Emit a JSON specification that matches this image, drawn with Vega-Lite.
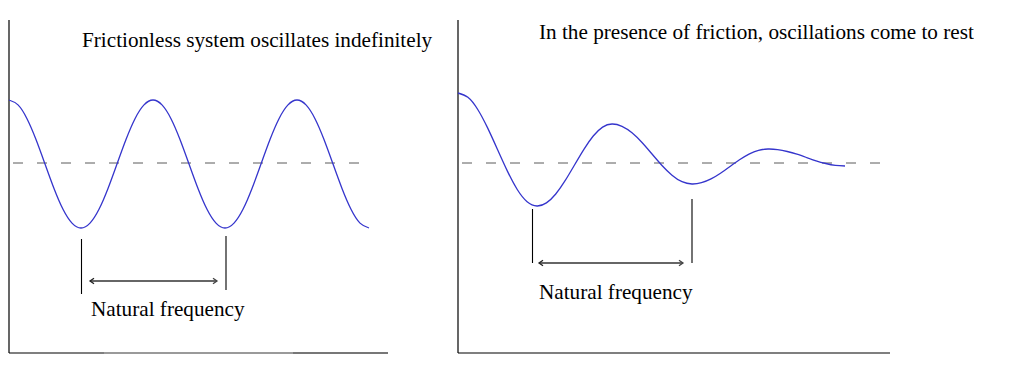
{
  "$schema": "https://vega.github.io/schema/vega-lite/v6.json",
  "background": "white",
  "padding": {"left": 6, "top": 19, "right": 0, "bottom": 0},
  "bounds": "flush",
  "spacing": 70,
  "config": {"view": {"stroke": null}, "font": "Liberation Serif"},
  "datasets": {
    "frictionless": [
      {"t": 0, "d": 63}, {"t": 9, "d": 58.1}, {"t": 18, "d": 44.3}, {"t": 27, "d": 23.5}, {"t": 36, "d": -1},
      {"t": 45, "d": -25.5}, {"t": 54, "d": -46.3}, {"t": 63, "d": -60.1}, {"t": 72, "d": -65}, {"t": 81, "d": -60.1},
      {"t": 90, "d": -46.3}, {"t": 99, "d": -25.5}, {"t": 108, "d": -1}, {"t": 117, "d": 23.5}, {"t": 126, "d": 44.3},
      {"t": 135, "d": 58.1}, {"t": 144, "d": 63}, {"t": 153, "d": 58.1}, {"t": 162, "d": 44.3}, {"t": 171, "d": 23.5},
      {"t": 180, "d": -1}, {"t": 189, "d": -25.5}, {"t": 198, "d": -46.3}, {"t": 207, "d": -60.1}, {"t": 216, "d": -65},
      {"t": 225, "d": -60.1}, {"t": 234, "d": -46.3}, {"t": 243, "d": -25.5}, {"t": 252, "d": -1}, {"t": 261, "d": 23.5},
      {"t": 270, "d": 44.3}, {"t": 279, "d": 58.1}, {"t": 288, "d": 63}, {"t": 297, "d": 58.1}, {"t": 306, "d": 44.3},
      {"t": 315, "d": 23.5}, {"t": 324, "d": -1}, {"t": 333, "d": -25.5}, {"t": 342, "d": -46.3}, {"t": 351, "d": -60.1},
      {"t": 360, "d": -65}
    ],
    "damped": [
      {"t": 0, "d": 70}, {"t": 9.9, "d": 65.7}, {"t": 19.75, "d": 53.5}, {"t": 29.6, "d": 35.1}, {"t": 39.5, "d": 13.5},
      {"t": 49.4, "d": -8.1}, {"t": 59.25, "d": -26.5}, {"t": 69.1, "d": -38.7}, {"t": 79, "d": -43},
      {"t": 88.4, "d": -39.9}, {"t": 97.75, "d": -31}, {"t": 107.1, "d": -17.7}, {"t": 116.5, "d": -2},
      {"t": 125.9, "d": 13.7}, {"t": 135.25, "d": 27}, {"t": 144.6, "d": 35.9}, {"t": 154, "d": 39},
      {"t": 164, "d": 36.7}, {"t": 174, "d": 30.2}, {"t": 184, "d": 20.5}, {"t": 194, "d": 9},
      {"t": 204, "d": -2.5}, {"t": 214, "d": -12.2}, {"t": 224, "d": -18.7}, {"t": 234, "d": -21},
      {"t": 243.5, "d": -19.7}, {"t": 253, "d": -15.9}, {"t": 262.5, "d": -10.2}, {"t": 272, "d": -3.5},
      {"t": 281.5, "d": 3.2}, {"t": 291, "d": 8.9}, {"t": 300.5, "d": 12.7}, {"t": 310, "d": 14},
      {"t": 319.6, "d": 13.4}, {"t": 329.25, "d": 11.5}, {"t": 338.9, "d": 8.8}, {"t": 348.5, "d": 5.5},
      {"t": 358.1, "d": 2.2}, {"t": 367.75, "d": -0.5}, {"t": 377.4, "d": -2.4}, {"t": 387, "d": -3}
    ]
  },
  "hconcat": [
    {
      "width": 379,
      "height": 334,
      "layer": [
        {
          "data": {"values": [{"t": 0, "d0": -190, "d1": 143}]},
          "mark": {"type": "rule", "color": "black", "strokeWidth": 1.2},
          "encoding": {
            "x": {"field": "t", "type": "quantitative", "scale": {"domain": [0, 379], "nice": false, "zero": false}, "axis": null},
            "y": {"field": "d0", "type": "quantitative", "scale": {"domain": [-190, 144], "nice": false, "zero": false}, "axis": null},
            "y2": {"field": "d1"}
          }
        },
        {
          "data": {"values": [{"t0": 0, "t1": 379, "d": -190}]},
          "mark": {"type": "rule", "color": "black", "strokeWidth": 1.2},
          "encoding": {
            "x": {"field": "t0", "type": "quantitative"},
            "x2": {"field": "t1"},
            "y": {"field": "d", "type": "quantitative"}
          }
        },
        {
          "data": {"values": [{"t0": 95, "t1": 284, "d": -190}]},
          "mark": {"type": "rule", "color": "#9a9a9a", "strokeWidth": 2},
          "encoding": {
            "x": {"field": "t0", "type": "quantitative"},
            "x2": {"field": "t1"},
            "y": {"field": "d", "type": "quantitative"}
          }
        },
        {
          "data": {"values": [{"t0": 284, "t1": 379, "d": -190}]},
          "mark": {"type": "rule", "color": "#777777", "strokeWidth": 2},
          "encoding": {
            "x": {"field": "t0", "type": "quantitative"},
            "x2": {"field": "t1"},
            "y": {"field": "d", "type": "quantitative"}
          }
        },
        {
          "data": {"values": [{"t0": 0, "t1": 363, "d": 0}]},
          "mark": {"type": "rule", "color": "#5a5a5a", "strokeWidth": 1, "strokeDash": [10, 14], "strokeDashOffset": -4},
          "encoding": {
            "x": {"field": "t0", "type": "quantitative"},
            "x2": {"field": "t1"},
            "y": {"field": "d", "type": "quantitative"}
          }
        },
        {
          "data": {"name": "frictionless"},
          "mark": {"type": "line", "color": "#3535cc", "strokeWidth": 1.3, "interpolate": "natural"},
          "encoding": {
            "x": {"field": "t", "type": "quantitative"},
            "y": {"field": "d", "type": "quantitative"}
          }
        },
        {
          "data": {"values": [{"t": 72.5, "d0": -76, "d1": -131}, {"t": 217, "d0": -73, "d1": -127}]},
          "mark": {"type": "rule", "color": "black", "strokeWidth": 1.1},
          "encoding": {
            "x": {"field": "t", "type": "quantitative"},
            "y": {"field": "d0", "type": "quantitative"},
            "y2": {"field": "d1"}
          }
        },
        {
          "data": {"values": [{"t0": 81, "t1": 208, "d": -118}]},
          "mark": {"type": "rule", "color": "#333333", "strokeWidth": 1.3},
          "encoding": {
            "x": {"field": "t0", "type": "quantitative"},
            "x2": {"field": "t1"},
            "y": {"field": "d", "type": "quantitative"}
          }
        },
        {
          "data": {"values": [{"t": 81, "d": -118}]},
          "mark": {"type": "point", "shape": "M2,-1.4L0,0L2,1.4", "size": 16, "filled": false, "color": "#222222", "strokeWidth": 1.3, "opacity": 1},
          "encoding": {
            "x": {"field": "t", "type": "quantitative"},
            "y": {"field": "d", "type": "quantitative"}
          }
        },
        {
          "data": {"values": [{"t": 208, "d": -118}]},
          "mark": {"type": "point", "shape": "M-2,-1.4L0,0L-2,1.4", "size": 16, "filled": false, "color": "#444444", "strokeWidth": 1.3, "opacity": 1},
          "encoding": {
            "x": {"field": "t", "type": "quantitative"},
            "y": {"field": "d", "type": "quantitative"}
          }
        },
        {
          "data": {"values": [{"t": 73, "d": 116, "label": "Frictionless system oscillates indefinitely"}, {"t": 82, "d": -153, "label": "Natural frequency"}]},
          "mark": {"type": "text", "align": "left", "baseline": "alphabetic", "font": "Liberation Serif", "fontSize": 21.2, "color": "black"},
          "encoding": {
            "x": {"field": "t", "type": "quantitative"},
            "y": {"field": "d", "type": "quantitative"},
            "text": {"field": "label"}
          }
        }
      ]
    },
    {
      "width": 432,
      "height": 334,
      "layer": [
        {
          "data": {"values": [{"t": 0, "d0": -190, "d1": 143}]},
          "mark": {"type": "rule", "color": "black", "strokeWidth": 1.2},
          "encoding": {
            "x": {"field": "t", "type": "quantitative", "scale": {"domain": [0, 432], "nice": false, "zero": false}, "axis": null},
            "y": {"field": "d0", "type": "quantitative", "scale": {"domain": [-190, 144], "nice": false, "zero": false}, "axis": null},
            "y2": {"field": "d1"}
          }
        },
        {
          "data": {"values": [{"t0": 0, "t1": 432, "d": -190}]},
          "mark": {"type": "rule", "color": "black", "strokeWidth": 1.2},
          "encoding": {
            "x": {"field": "t0", "type": "quantitative"},
            "x2": {"field": "t1"},
            "y": {"field": "d", "type": "quantitative"}
          }
        },
        {
          "data": {"values": [{"t0": 0, "t1": 434, "d": 0}]},
          "mark": {"type": "rule", "color": "#5a5a5a", "strokeWidth": 1, "strokeDash": [10, 14], "strokeDashOffset": -4},
          "encoding": {
            "x": {"field": "t0", "type": "quantitative"},
            "x2": {"field": "t1"},
            "y": {"field": "d", "type": "quantitative"}
          }
        },
        {
          "data": {"name": "damped"},
          "mark": {"type": "line", "color": "#3535cc", "strokeWidth": 1.3, "interpolate": "natural"},
          "encoding": {
            "x": {"field": "t", "type": "quantitative"},
            "y": {"field": "d", "type": "quantitative"}
          }
        },
        {
          "data": {"values": [{"t": 74.5, "d0": -46, "d1": -100}, {"t": 234, "d0": -36, "d1": -100}]},
          "mark": {"type": "rule", "color": "black", "strokeWidth": 1.1},
          "encoding": {
            "x": {"field": "t", "type": "quantitative"},
            "y": {"field": "d0", "type": "quantitative"},
            "y2": {"field": "d1"}
          }
        },
        {
          "data": {"values": [{"t0": 81, "t1": 225, "d": -100}]},
          "mark": {"type": "rule", "color": "#333333", "strokeWidth": 1.3},
          "encoding": {
            "x": {"field": "t0", "type": "quantitative"},
            "x2": {"field": "t1"},
            "y": {"field": "d", "type": "quantitative"}
          }
        },
        {
          "data": {"values": [{"t": 81, "d": -100}]},
          "mark": {"type": "point", "shape": "M2,-1.4L0,0L2,1.4", "size": 16, "filled": false, "color": "#222222", "strokeWidth": 1.3, "opacity": 1},
          "encoding": {
            "x": {"field": "t", "type": "quantitative"},
            "y": {"field": "d", "type": "quantitative"}
          }
        },
        {
          "data": {"values": [{"t": 225, "d": -100}]},
          "mark": {"type": "point", "shape": "M-2,-1.4L0,0L-2,1.4", "size": 16, "filled": false, "color": "#444444", "strokeWidth": 1.3, "opacity": 1},
          "encoding": {
            "x": {"field": "t", "type": "quantitative"},
            "y": {"field": "d", "type": "quantitative"}
          }
        },
        {
          "data": {"values": [{"t": 81, "d": 124, "label": "In the presence of friction, oscillations come to rest"}, {"t": 81, "d": -136, "label": "Natural frequency"}]},
          "mark": {"type": "text", "align": "left", "baseline": "alphabetic", "font": "Liberation Serif", "fontSize": 21.2, "color": "black"},
          "encoding": {
            "x": {"field": "t", "type": "quantitative"},
            "y": {"field": "d", "type": "quantitative"},
            "text": {"field": "label"}
          }
        }
      ]
    }
  ]
}
